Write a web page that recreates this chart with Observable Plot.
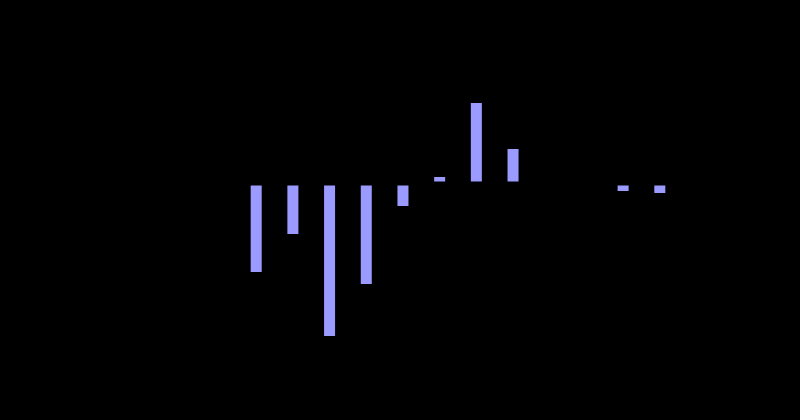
<!DOCTYPE html>
<html>
<head>
<meta charset="utf-8">
<script src="https://cdn.jsdelivr.net/npm/d3@7"></script>
<script src="https://cdn.jsdelivr.net/npm/@observablehq/plot@0.6"></script>
<style>
  html, body { margin: 0; padding: 0; background: #000; }
  #chart svg { display: block; }
</style>
</head>
<body>
<div id="chart"></div>
<script>
const categories = ["Jan", "Feb", "Mar", "Apr", "May", "Jun", "Jul", "Aug", "Sep", "Oct", "Nov", "Dec"];
const values = [-8.9, -5.1, -15.3, -10.1, -2.3, 0.6, 8.0, 3.4, 0, 0, -0.8, -1.0];

const data = categories.map((c, i) => ({category: c, value: values[i]}));

const chart = Plot.plot({
  width: 800,
  height: 420,
  marginTop: 33,
  marginBottom: 37,
  marginLeft: 225,
  marginRight: 109,
  style: {background: "transparent", color: "black", fontFamily: "DejaVu Sans", fontSize: "11px"},
  x: {domain: categories, padding: 0.7, round: false, label: null, tickSize: 0},
  y: {domain: [-20, 15], label: "Change", grid: false},
  marks: [
    Plot.barY(data, {x: "category", y: "value", fill: "#9a9aff"}),
    Plot.ruleY([0], {stroke: "black", strokeWidth: 4})
  ]
});
document.getElementById("chart").appendChild(chart);
</script>
</body>
</html>
